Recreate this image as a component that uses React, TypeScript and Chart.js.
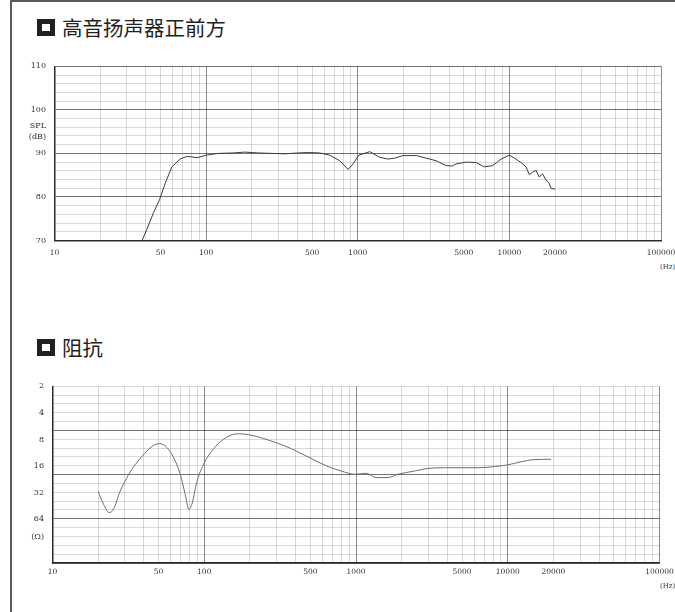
import React, { useEffect, useRef } from 'react';
import { Chart, registerables } from 'chart.js';

Chart.register(...registerables);

// ---------- data ----------
const splFreq = [37.8, 40.7, 45, 49.3, 53.7, 59.4, 67.4, 74.6, 80, 86.9, 100, 120, 151, 180, 220, 270, 330, 400, 480, 560, 654, 762, 864, 931, 1016, 1200, 1396, 1585, 1751, 1986, 2432, 2976, 3296, 3831, 4197, 4458, 5188, 6039, 6850, 7767, 8817, 10000, 11070, 12240, 12880, 13550, 14230, 14970, 15740, 16560, 17420, 18320, 18800, 20000];
const splDb = [70, 72.6, 76.4, 79.4, 83.1, 86.9, 88.7, 89.3, 89.2, 89.0, 89.6, 90.0, 90.1, 90.3, 90.1, 90.0, 89.9, 90.1, 90.2, 90.1, 89.6, 88.3, 86.3, 87.6, 89.6, 90.4, 89.1, 88.7, 88.9, 89.5, 89.5, 88.7, 88.3, 87.2, 87.1, 87.6, 88.0, 87.9, 86.9, 87.2, 88.7, 89.6, 88.7, 87.6, 86.9, 85.1, 85.7, 86.1, 84.6, 85.3, 83.9, 83.1, 82.0, 81.8];

const impFreq = [20, 21.7, 23.6, 25.2, 27.9, 31.6, 35, 40.3, 46.2, 51.1, 56.5, 62.5, 69.2, 74.6, 79.3, 83.3, 89, 98.5, 117.5, 140, 167, 195, 292, 376, 483, 654, 800, 979, 1169, 1362, 1623, 1888, 2432, 2976, 3831, 4932, 6353, 8168, 10000, 12240, 14970, 19280];
const impOhm = [30.9, 43.2, 53.7, 49.4, 30.9, 20.2, 15.5, 11.6, 9.35, 8.9, 9.8, 12.6, 19.3, 32.4, 49.5, 41.9, 24.8, 15.5, 9.8, 7.56, 6.9, 7.04, 8.6, 10.2, 12.6, 16.2, 18.2, 19.8, 19.3, 21.6, 21.6, 19.8, 18.2, 17.0, 16.7, 16.7, 16.7, 16.2, 15.5, 14.3, 13.5, 13.4];

const freqTickLabels = [10, 50, 100, 500, 1000, 5000, 10000, 20000, 100000];
const splTickLabels = [70, 80, 90, 100, 110];
const ohmTickLabels = [2, 4, 8, 16, 32, 64];
const splUnitLabel = ['SPL', '(dB)'];
const ohmUnitLabel = '(Ω)';
const freqUnitLabel = '(Hz)';
const title1 = '高音扬声器正前方';
const title2 = '阻抗';

// ---------- style helpers ----------
const SERIF = "'DejaVu Serif', 'Liberation Serif', serif";
const MINOR = 'rgba(0,0,0,0.15)';
const VMAJOR = 'rgba(0,0,0,0.45)';
const HMAJOR = 'rgba(0,0,0,0.55)';

const X_GRID: number[] = (() => {
  const out: number[] = [];
  for (let e = 1; e <= 4; e++) for (let d = 1; d <= 9; d++) out.push(d * Math.pow(10, e));
  out.push(100000);
  return out;
})();
const isDecade = (v: number) => Math.abs(Math.log10(v) - Math.round(Math.log10(v))) < 1e-9;

function xScale(padding: number, height: number) {
  return {
    type: 'logarithmic',
    min: 10,
    max: 100000,
    bounds: 'data',
    afterBuildTicks: (s: any) => {
      s.ticks = X_GRID.map((v) => ({ value: v }));
    },
    afterFit: (s: any) => {
      s.height = height;
    },
    border: { display: true, color: '#2a2a2a', width: 1.5 },
    grid: {
      drawTicks: false,
      lineWidth: 1,
      color: (c: any) => (c.tick && isDecade(c.tick.value) ? VMAJOR : MINOR),
    },
    ticks: {
      autoSkip: false,
      maxRotation: 0,
      minRotation: 0,
      padding,
      color: '#333',
      font: { family: SERIF, size: 7.5 },
      callback: (v: number) => {
        const r = Math.round(v);
        return freqTickLabels.includes(r) ? String(r) : '';
      },
    },
  };
}

function splConfig(): any {
  const ticks: any[] = [];
  for (let v = 70; v <= 110; v += 2) ticks.push({ value: v, kind: 'grid' });
  ticks.push({ value: 95.06, kind: 'unit' });
  ticks.sort((a, b) => a.value - b.value);
  return {
    type: 'scatter',
    data: {
      datasets: [
        {
          data: splFreq.map((f, i) => ({ x: f, y: splDb[i] })),
          showLine: true,
          borderColor: '#3c3c3c',
          borderWidth: 1,
          pointRadius: 0,
          tension: 0,
        },
      ],
    },
    options: {
      animation: false,
      responsive: true,
      maintainAspectRatio: false,
      layout: { padding: { top: 10, right: 39, left: 0, bottom: 0 } },
      plugins: { legend: { display: false }, tooltip: { enabled: false } },
      scales: {
        x: xScale(8.5, 20.5),
        y: {
          type: 'linear',
          min: 70,
          max: 110,
          bounds: 'data',
          afterBuildTicks: (s: any) => {
            s.ticks = ticks.map((t) => ({ ...t }));
          },
          afterFit: (s: any) => {
            s.width = 54.5;
          },
          border: { display: true, color: '#2a2a2a', width: 1.5 },
          grid: {
            drawTicks: false,
            lineWidth: 1,
            color: (c: any) => {
              const t = c.tick;
              if (!t || t.kind === 'unit') return 'rgba(0,0,0,0)';
              return Math.round(t.value) % 10 === 0 ? HMAJOR : MINOR;
            },
          },
          ticks: {
            autoSkip: false,
            padding: 8.5,
            color: '#333',
            font: { family: SERIF, size: 8, lineHeight: 1.45 },
            callback: (v: number, i: number, ts: any[]) => {
              if (ts[i] && ts[i].kind === 'unit') return splUnitLabel;
              const r = Math.round(v);
              return splTickLabels.includes(r) ? String(r) : '';
            },
          },
        },
      },
    },
  };
}

function impConfig(): any {
  const ticks: any[] = [];
  for (let k = 0; k <= 20; k++) ticks.push({ value: 2 * Math.pow(10, k / 10), kind: 'grid', k });
  ohmTickLabels.forEach((v) => ticks.push({ value: v, kind: 'label' }));
  ticks.push({ value: 102.3, kind: 'unit' });
  ticks.sort((a, b) => a.value - b.value);
  return {
    type: 'scatter',
    data: {
      datasets: [
        {
          data: impFreq.map((f, i) => ({ x: f, y: impOhm[i] })),
          showLine: true,
          borderColor: '#6e6e6e',
          borderWidth: 1,
          pointRadius: 0,
          cubicInterpolationMode: 'monotone',
        },
      ],
    },
    options: {
      animation: false,
      responsive: true,
      maintainAspectRatio: false,
      layout: { padding: { top: 10, right: 40.5, left: 0, bottom: 0 } },
      plugins: { legend: { display: false }, tooltip: { enabled: false } },
      scales: {
        x: xScale(5, 20),
        y: {
          type: 'logarithmic',
          reverse: true,
          min: 2,
          max: 200,
          bounds: 'data',
          afterBuildTicks: (s: any) => {
            s.ticks = ticks.map((t) => ({ ...t }));
          },
          afterFit: (s: any) => {
            s.width = 52.5;
          },
          border: { display: true, color: '#2a2a2a', width: 1.5 },
          grid: {
            drawTicks: false,
            lineWidth: 1,
            color: (c: any) => {
              const t = c.tick;
              if (!t || t.kind !== 'grid') return 'rgba(0,0,0,0)';
              return t.k % 5 === 0 && t.k !== 0 ? HMAJOR : MINOR;
            },
          },
          ticks: {
            autoSkip: false,
            padding: 8.5,
            color: '#333',
            font: { family: SERIF, size: 8 },
            callback: (v: number, i: number, ts: any[]) => {
              const t = ts[i];
              if (!t) return '';
              if (t.kind === 'unit') return ohmUnitLabel;
              if (t.kind === 'label') return String(Math.round(v));
              return '';
            },
          },
        },
      },
    },
  };
}

function ChartBox({ make, style }: { make: () => any; style: React.CSSProperties }) {
  const ref = useRef<HTMLCanvasElement | null>(null);
  useEffect(() => {
    if (!ref.current) return;
    const chart = new Chart(ref.current, make());
    return () => chart.destroy();
  }, []);
  return (
    <div style={{ position: 'absolute', ...style }}>
      <canvas ref={ref} />
    </div>
  );
}

const squareStyle = (top: number): React.CSSProperties => ({
  position: 'absolute',
  left: 37,
  top,
  width: 8,
  height: 7,
  border: '5px solid #231f20',
  background: '#fff',
});

const titleStyle = (top: number): React.CSSProperties => ({
  position: 'absolute',
  left: 62,
  top,
  fontFamily: "'Noto Sans CJK SC', sans-serif",
  fontSize: 20.5,
  lineHeight: '26px',
  color: '#231f20',
  whiteSpace: 'nowrap',
});

const unitStyle = (top: number): React.CSSProperties => ({
  position: 'absolute',
  left: 660,
  top,
  fontFamily: SERIF,
  fontSize: 7,
  lineHeight: '8px',
  color: '#333',
  whiteSpace: 'nowrap',
});

export default function App() {
  return (
    <div
      style={{
        position: 'absolute',
        left: 0,
        top: 0,
        width: 675,
        height: 612,
        overflow: 'hidden',
        background: '#fff',
      }}
    >
      <div
        style={{
          position: 'absolute',
          left: 10,
          top: 0,
          width: 700,
          height: 700,
          borderLeft: '2px solid #5a5a5a',
          borderTop: '2px solid #5a5a5a',
        }}
      />
      <div style={squareStyle(19)} />
      <div style={titleStyle(14)}>{title1}</div>
      <ChartBox make={splConfig} style={{ left: 0, top: 52, width: 700, height: 209 }} />
      <div style={unitStyle(263)}>{freqUnitLabel}</div>

      <div style={squareStyle(339)} />
      <div style={titleStyle(334)}>{title2}</div>
      <ChartBox make={impConfig} style={{ left: 0, top: 373, width: 700, height: 210 }} />
      <div style={unitStyle(582)}>{freqUnitLabel}</div>
    </div>
  );
}
